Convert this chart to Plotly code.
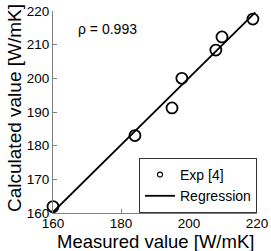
import plotly.graph_objects as go

# Data
measured = [160.0, 184.1, 195.0, 197.9, 207.9, 209.7, 218.8]
calculated = [161.9, 183.0, 191.2, 200.0, 208.4, 212.3, 217.6]
reg_x = [160.0, 219.5]
reg_y = [160.3, 219.6]
x_ticks = [160, 180, 200, 220]
y_ticks = [160, 170, 180, 190, 200, 210, 220]
rho_text = "ρ = 0.993"

FONT = "Liberation Sans, Arial, Helvetica, sans-serif"
AX = "#808080"

fig = go.Figure()
fig.add_trace(go.Scatter(
    x=measured, y=calculated, mode="markers", showlegend=False, cliponaxis=False,
    marker=dict(symbol="circle-open", size=11, color="black", line=dict(width=1.8, color="black")),
))
fig.add_trace(go.Scatter(
    x=reg_x, y=reg_y, mode="lines", showlegend=False, cliponaxis=False,
    line=dict(color="black", width=1.8),
))
# legend entries
fig.add_trace(go.Scatter(
    x=[None], y=[None], mode="markers", name="Exp [4]",
    marker=dict(symbol="circle-open", size=5, color="black", line=dict(width=1.1, color="black")),
))
fig.add_trace(go.Scatter(
    x=[None], y=[None], mode="lines", name="Regression",
    line=dict(color="black", width=1.8),
))

fig.update_layout(
    template="none",
    width=271, height=251,
    autosize=False,
    margin=dict(l=53, r=14, t=11, b=38, pad=0, autoexpand=False),
    paper_bgcolor="white", plot_bgcolor="white",
    font=dict(family=FONT, size=14, color="black"),
    legend=dict(
        x=1, y=0, xanchor="right", yanchor="bottom",
        bordercolor="#333333", borderwidth=1, bgcolor="white",
        font=dict(size=14), itemwidth=30, tracegroupgap=0,
    ),
    xaxis=dict(
        range=[160, 220], tickvals=x_ticks, ticks="inside", ticklen=4,
        tickcolor=AX, showline=True, linecolor=AX, linewidth=1,
        showgrid=False, zeroline=False, tickfont=dict(size=13.5), fixedrange=True,
        automargin=False, ticklabelstandoff=-2,
    ),
    yaxis=dict(
        range=[160, 220], tickvals=y_ticks, ticks="inside", ticklen=4,
        tickcolor=AX, showline=True, linecolor=AX, linewidth=1,
        showgrid=False, zeroline=False, tickfont=dict(size=13.5), fixedrange=True,
        automargin=False,
    ),
    annotations=[
        dict(text=rho_text, x=166.8, y=214.7, xref="x", yref="y",
             xanchor="left", yanchor="middle", showarrow=False, font=dict(size=14)),
        dict(text="Measured value [W/mK]", x=0.5, y=-0.143, xref="paper", yref="paper",
             xanchor="center", yanchor="middle", showarrow=False, font=dict(size=18.5)),
        dict(text="Calculated value [W/mK]", x=-0.186, y=0.52, xref="paper", yref="paper",
             xanchor="center", yanchor="middle", textangle=-90, showarrow=False,
             font=dict(size=19)),
    ],
)

fig.write_html(
    "out.html",
    config={"displayModeBar": False},
    post_script="document.body.style.margin='0';document.body.style.padding='0';",
)
